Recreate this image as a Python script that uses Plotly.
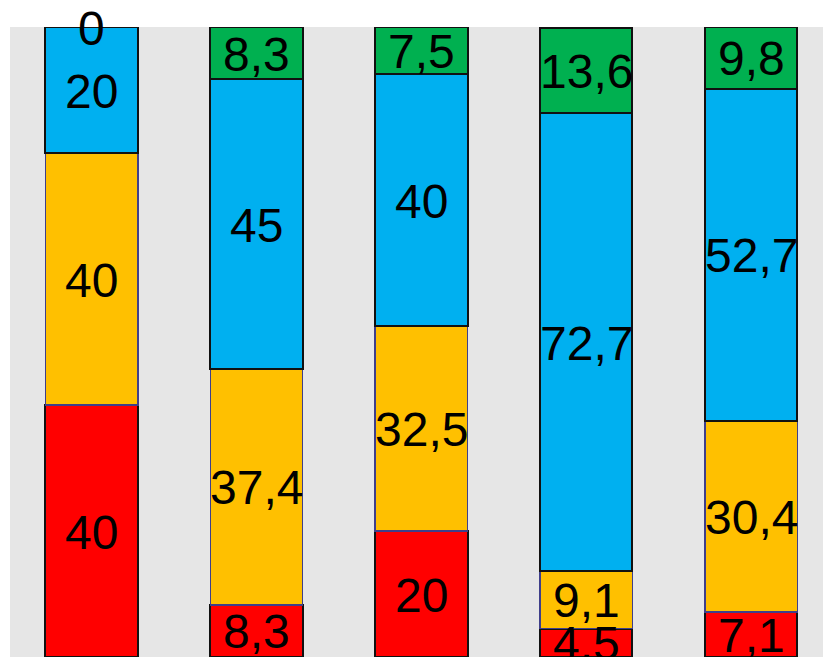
import plotly.graph_objects as go

categories = ["A", "B", "C", "D", "E"]

red_values = [40, 8.3, 20, 4.5, 7.1]
yellow_values = [40, 37.4, 32.5, 9.1, 30.4]
blue_values = [20, 46.0, 40, 72.7, 52.7]
green_values = [0, 8.3, 7.5, 13.6, 9.8]

red_labels = ["40", "8,3", "20", "4,5", "7,1"]
yellow_labels = ["40", "37,4", "32,5", "9,1", "30,4"]
blue_labels = ["20", "45", "40", "72,7", "52,7"]
green_labels = ["0", "8,3", "7,5", "13,6", "9,8"]

series = [
    (red_values, red_labels, "#FF0000", "#111111", 2),
    (yellow_values, yellow_labels, "#FFC000", "#3F3F8A", 1.6),
    (blue_values, blue_labels, "#00B0F0", "#111111", 2),
    (green_values, green_labels, "#00B050", "#111111", 2),
]

fig = go.Figure()
base = [0.0] * len(categories)
annotations = []
for vals, labels, fill, line, lw in series:
    fig.add_trace(go.Bar(
        x=categories, y=vals, marker=dict(color=fill, line=dict(color=line, width=lw)),
        width=0.56, showlegend=False, hoverinfo="skip",
    ))
    for i, v in enumerate(vals):
        annotations.append(dict(
            x=categories[i], y=base[i] + v / 2, xref="x", yref="y",
            text=labels[i], showarrow=False, xanchor="center", yanchor="middle",
            yshift=-1,
            font=dict(family="Arial, Liberation Sans, sans-serif", size=48, color="#000000"),
        ))
        base[i] += v

fig.update_layout(
    barmode="stack",
    width=823, height=649,
    margin=dict(l=2, r=0, t=19, b=0),
    paper_bgcolor="#FFFFFF",
    plot_bgcolor="#E6E6E6",
    xaxis=dict(range=[-0.495, 4.484], showticklabels=False, showgrid=False,
               zeroline=False, showline=False, ticks=""),
    yaxis=dict(range=[0, 100], showticklabels=False, showgrid=False,
               zeroline=False, showline=False, ticks=""),
    bargap=0.44,
    annotations=annotations,
)

fig.write_html("out.html")
